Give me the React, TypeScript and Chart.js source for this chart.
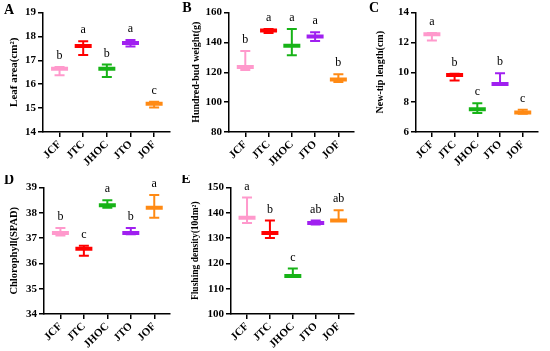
import React, { useEffect, useRef } from 'react';
import { Chart, registerables } from 'chart.js';
Chart.register(...registerables);

const categories = ['JCF', 'JTC', 'JHOC', 'JTO', 'JOF'];
const colors = ['#FF99CC', '#FF0000', '#17B317', '#A020F0', '#FF8A14'];

const leafMean = [16.65, 17.6, 16.65, 17.72, 15.18];
const leafHigh = [16.72, 17.8, 16.82, 17.85, 15.27];
const leafLow = [16.37, 17.22, 16.3, 17.58, 15.03];
const leafLetters = ['b', 'a', 'b', 'a', 'c'];

const budMean = [123.5, 148, 137.8, 144, 115.2];
const budHigh = [134.3, 149, 149, 146.8, 118.6];
const budLow = [121.5, 146.2, 131.4, 141, 113.5];
const budLetters = ['b', 'a', 'a', 'a', 'b'];

const tipMean = [12.55, 9.82, 7.53, 9.22, 7.3];
const tipHigh = [12.62, 9.9, 7.93, 9.93, 7.49];
const tipLow = [12.12, 9.45, 7.28, 9.18, 7.22];
const tipLetters = ['a', 'b', 'c', 'b', 'c'];

const chlMean = [37.2, 36.58, 38.3, 37.2, 38.2];
const chlHigh = [37.4, 36.7, 38.5, 37.4, 38.7];
const chlLow = [37.1, 36.3, 38.2, 37.15, 37.8];
const chlLetters = ['b', 'c', 'a', 'b', 'a'];

const flushMean = [138, 132, 115, 136, 137];
const flushHigh = [146, 137, 118, 137, 141];
const flushLow = [136, 130, 114.8, 135.4, 136.8];
const flushLetters = ['a', 'b', 'c', 'ab', 'ab'];

type Panel = {
  label: string; title: string; titleSize: number;
  mean: number[]; high: number[]; low: number[]; letters: string[];
  yMin: number; yMax: number; step: number;
  L: number; T: number; W: number; H: number;
  x0: number; x1: number; y0: number; y1: number;
  lx: number; ly: number;
};

const panels: Panel[] = [
  { label: 'A', title: 'Leaf area(cm²)', titleSize: 11, mean: leafMean, high: leafHigh, low: leafLow, letters: leafLetters,
    yMin: 14, yMax: 19, step: 1, L: 0, T: 0, W: 182, H: 175, x0: 43, x1: 174, y0: 7, y1: 132, lx: 9, ly: 10 },
  { label: 'B', title: 'Hundred-bud weight(g)', titleSize: 10, mean: budMean, high: budHigh, low: budLow, letters: budLetters,
    yMin: 80, yMax: 160, step: 20, L: 182, T: 0, W: 184, H: 175, x0: 229, x1: 364, y0: 7, y1: 132, lx: 187, ly: 8 },
  { label: 'C', title: 'New-tip length(cm)', titleSize: 10, mean: tipMean, high: tipHigh, low: tipLow, letters: tipLetters,
    yMin: 6, yMax: 14, step: 2, L: 366, T: 0, W: 184, H: 175, x0: 416, x1: 546, y0: 7, y1: 132, lx: 374, ly: 8 },
  { label: 'D', title: 'Chlorophyll(SPAD)', titleSize: 10.5, mean: chlMean, high: chlHigh, low: chlLow, letters: chlLetters,
    yMin: 34, yMax: 39, step: 1, L: 0, T: 175, W: 182, H: 176, x0: 44, x1: 175, y0: 185, y1: 314, lx: 9, ly: 180 },
  { label: 'E', title: 'Flushing density(10dm²)', titleSize: 9.5, mean: flushMean, high: flushHigh, low: flushLow, letters: flushLetters,
    yMin: 100, yMax: 150, step: 10, L: 182, T: 175, W: 184, H: 176, x0: 231, x1: 364, y0: 184, y1: 314, lx: 186, ly: 179 },
];

const FAMILY = '"Liberation Serif", "Times New Roman", serif';

function PanelChart({ p }: { p: Panel }) {
  const ref = useRef<HTMLCanvasElement>(null);
  useEffect(() => {
    if (!ref.current) return;
    const datasets: any[] = [];
    categories.forEach((_, i) => {
      datasets.push({
        data: [{ x: i, y: p.low[i] }, { x: i, y: p.high[i] }],
        showLine: true,
        borderColor: colors[i],
        borderWidth: 2,
        pointStyle: 'line',
        pointRadius: 5,
        pointHoverRadius: 5,
        pointBorderWidth: 2,
        pointBorderColor: colors[i],
        pointBackgroundColor: colors[i],
      });
    });
    datasets.push({
      data: p.mean.map((m, i) => ({ x: i, y: m })),
      showLine: false,
      pointStyle: 'line',
      pointRadius: 8.5,
      pointHoverRadius: 8.5,
      pointBorderWidth: 4,
      pointBorderColor: colors,
      pointBackgroundColor: colors,
    });
    const tickFont = { family: FAMILY, size: 11, weight: 'bold' as const };
    const lettersPlugin = {
      id: 'lettersPlugin',
      afterDatasetsDraw(chart: any) {
        const { ctx } = chart;
        const xs = chart.scales.x;
        const ys = chart.scales.y;
        ctx.save();
        ctx.fillStyle = '#000';
        ctx.font = `12px ${FAMILY}`;
        ctx.textAlign = 'center';
        ctx.textBaseline = 'middle';
        p.letters.forEach((t, i) => {
          ctx.fillText(t, xs.getPixelForValue(i), ys.getPixelForValue(p.high[i]) - 11);
        });
        ctx.font = `bold 14px ${FAMILY}`;
        ctx.fillText(p.label, p.lx - p.L, p.ly - p.T);
        ctx.restore();
      },
    };
    const chart = new Chart(ref.current, {
      type: 'line',
      data: { datasets },
      options: {
        animation: false,
        responsive: false,
        maintainAspectRatio: false,
        layout: { padding: { left: 0, right: p.L + p.W - p.x1, top: p.y0 - p.T, bottom: 0 } },
        plugins: { legend: { display: false }, tooltip: { enabled: false } },
        scales: {
          x: {
            type: 'linear',
            min: -0.7,
            max: 4.65,
            afterBuildTicks: (s: any) => { s.ticks = [0, 1, 2, 3, 4].map((v) => ({ value: v })); },
            afterFit: (s: any) => { s.height = p.T + p.H - p.y1; },
            ticks: {
              callback: (v: any) => categories[v as number],
              minRotation: 45,
              maxRotation: 45,
              autoSkip: false,
              font: tickFont,
              color: '#000',
              padding: 1,
            },
            grid: { display: true, drawOnChartArea: false, drawTicks: true, tickLength: 5, color: '#000', lineWidth: 1.5 },
            border: { display: true, color: '#000', width: 1.5 },
          },
          y: {
            type: 'linear',
            min: p.yMin,
            max: p.yMax,
            afterFit: (s: any) => { s.width = p.x0 - p.L; },
            ticks: { stepSize: p.step, font: tickFont, color: '#000', padding: 2 },
            grid: { display: true, drawOnChartArea: false, drawTicks: true, tickLength: 5, color: '#000', lineWidth: 1.5 },
            border: { display: true, color: '#000', width: 1.5 },
            title: {
              display: true,
              text: p.title,
              color: '#000',
              font: { family: FAMILY, size: p.titleSize, weight: 'bold' },
              padding: { top: 8, bottom: 0 },
            },
          },
        },
      },
      plugins: [lettersPlugin],
    } as any);
    return () => chart.destroy();
  }, [p]);
  return (
    <canvas
      ref={ref}
      width={p.W}
      height={p.H}
      style={{ position: 'absolute', left: p.L, top: p.T, width: p.W, height: p.H }}
    />
  );
}

export default function App() {
  return (
    <div style={{ position: 'fixed', left: 0, top: 0, width: 550, height: 351, background: '#fff', overflow: 'hidden' }}>
      {panels.map((p) => (
        <PanelChart key={p.label} p={p} />
      ))}
    </div>
  );
}
